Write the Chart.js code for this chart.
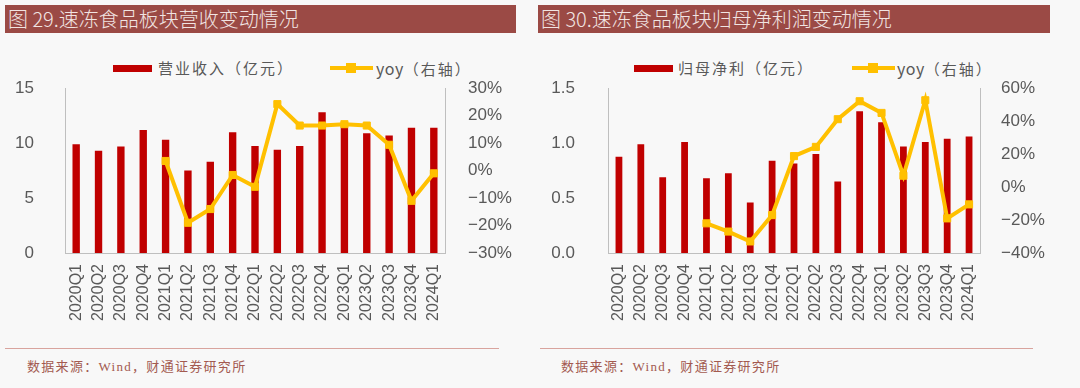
<!DOCTYPE html>
<html>
<head>
<meta charset="utf-8">
<script src="https://cdn.jsdelivr.net/npm/chart.js@4.4.1/dist/chart.umd.min.js"></script>
<style>
  body { margin: 0; width: 1080px; height: 388px; background: #f8f8f8; position: relative; overflow: hidden; font-family: "Noto Sans CJK SC", sans-serif; }
  .title { position: absolute; top: 5px; height: 28px; line-height: 28px; background: #9b4a45; color: #f1e4e2; font-size: 20px; padding-left: 3px; box-sizing: border-box; white-space: nowrap; font-weight: 300; }
  .rule { position: absolute; top: 348px; height: 1px; background: #d9a49e; }
  .src { position: absolute; top: 356px; font-size: 13px; letter-spacing: 1.3px; color: #a35a50; font-family: "Liberation Serif", "Noto Sans CJK SC", serif; white-space: nowrap; }
  .leg { position: absolute; top: 59px; font-size: 15px; letter-spacing: 2px; color: #595959; white-space: nowrap; line-height: 18px; }
  .leg .lat { letter-spacing: 0.5px; font-size: 16px; }
  .sw-bar { position: absolute; top: 6px; height: 7px; background: #c00000; }
  .sw-line { position: absolute; top: 7px; height: 4px; background: #ffc000; }
  .sw-pt { position: absolute; top: 4px; width: 10px; height: 10px; background: #ffc000; }
  canvas { position: absolute; }
</style>
</head>
<body>
<div class="title" style="left:5px;width:511px;">图 29.速冻食品板块营收变动情况</div>
<div class="title" style="left:538px;width:512px;">图 30.速冻食品板块归母净利润变动情况</div>

<div class="leg" style="left:113px;"><span class="sw-bar" style="left:0;width:39px;"></span><span style="margin-left:45px;">营业收入（亿元）</span></div>
<div class="leg" style="left:330px;"><span class="sw-line" style="left:0;width:43px;"></span><span class="sw-pt" style="left:16px;"></span><span style="margin-left:46px;"><span class="lat">yoy</span>（右轴）</span></div>
<div class="leg" style="left:634px;"><span class="sw-bar" style="left:0;width:39px;"></span><span style="margin-left:44px;">归母净利（亿元）</span></div>
<div class="leg" style="left:852px;"><span class="sw-line" style="left:0;width:43px;"></span><span class="sw-pt" style="left:16px;"></span><span style="margin-left:45px;"><span class="lat">yoy</span>（右轴）</span></div>

<!-- верх холста сдвинут с учётом отступа подписей оси (padding + половина высоты шрифта) -->
<canvas id="revChart" width="520" height="275" style="left:0px;top:55px;"></canvas>
<canvas id="profitChart" width="520" height="277" style="left:540px;top:53px;"></canvas>

<div class="rule" style="left:5px;width:494px;"></div>
<div class="rule" style="left:540px;width:493px;"></div>
<div class="src" style="left:27px;">数据来源：Wind，财通证券研究所</div>
<div class="src" style="left:561px;">数据来源：Wind，财通证券研究所</div>

<script>
// квартальные данные
var quarters = ["2020Q1", "2020Q2", "2020Q3", "2020Q4", "2021Q1", "2021Q2", "2021Q3", "2021Q4",
  "2022Q1", "2022Q2", "2022Q3", "2022Q4", "2023Q1", "2023Q2", "2023Q3", "2023Q4", "2024Q1"];
var revenue = [9.9, 9.3, 9.7, 11.2, 10.3, 7.5, 8.3, 11.0, 9.75, 9.4, 9.75, 12.8, 11.9, 10.9, 10.7, 11.4, 11.4];
var revenueYoy = [null, null, null, null, 3.5, -19, -14, -1.6, -5.9, 24.2, 16.4, 16.4, 16.9, 16.4, 9.4, -11, -1];
var profit = [0.875, 0.99, 0.69, 1.01, 0.68, 0.725, 0.46, 0.84, 0.815, 0.9, 0.65, 1.29, 1.19, 0.97, 1.01, 1.04, 1.06];
var profitYoy = [null, null, null, null, -22, -27, -33, -17, 18.8, 24.4, 41.2, 52.1, 45, 6.9, 52.7, -19, -10.5];

var revLeftTicks = { min: 0, max: 15, step: 5 };
var revRightTicks = { min: -30, max: 30, step: 10 };
var profitLeftTicks = { min: 0, max: 1.5, step: 0.5 };
var profitRightTicks = { min: -40, max: 60, step: 20 };

var gray = "#595959";
var axisColor = "#bfbfbf";

function pct(v) {
  return (v < 0 ? "\u2212" + Math.abs(v) : v) + "%";
}

function makeChart(id, bars, yoy, left, right, opt) {
  return new Chart(id, {
    data: {
      labels: quarters,
      datasets: [
        {
          type: "line",
          data: yoy,
          yAxisID: "yR",
          order: 0,
          borderColor: "#ffc000",
          backgroundColor: "#ffc000",
          borderWidth: 4,
          pointStyle: "rect",
          pointRadius: 5,
          pointBorderWidth: 1,
          tension: 0,
        },
        {
          type: "bar",
          data: bars,
          yAxisID: "yL",
          order: 1,
          backgroundColor: "#c00000",
          categoryPercentage: 1,
          barPercentage: opt.barPct,
        },
      ],
    },
    options: {
      responsive: false,
      animation: false,
      devicePixelRatio: 1,
      layout: { padding: 0 },
      plugins: { legend: { display: false }, tooltip: { enabled: false } },
      scales: {
        x: {
          grid: { display: false },
          border: { display: true, color: axisColor },
          ticks: { color: gray, font: { family: "Liberation Sans", size: 16 }, maxRotation: 90, minRotation: 90, padding: 3, autoSkip: false },
          afterFit: function (s) { s.height = 77; },
        },
        yL: {
          position: "left",
          min: left.min, max: left.max,
          grid: { display: false },
          border: { display: true, color: axisColor },
          ticks: {
            stepSize: left.step, color: gray, padding: opt.leftPad,
            font: { family: "Liberation Sans", size: 17 },
            callback: opt.leftFmt,
          },
          afterFit: function (s) { s.width = opt.leftW; },
        },
        yR: {
          position: "right",
          min: right.min, max: right.max,
          grid: { display: false },
          border: { display: true, color: axisColor },
          ticks: {
            stepSize: right.step, color: gray, padding: opt.rightPad,
            font: { family: "Liberation Sans", size: 17 },
            callback: pct,
          },
          afterFit: function (s) { s.width = opt.rightW; },
        },
      },
    },
  });
}

makeChart("revChart", revenue, revenueYoy, revLeftTicks, revRightTicks, {
  barPct: 0.33, leftW: 65, rightW: 75, leftPad: 23, rightPad: 15,
  leftFmt: function (v) { return v; },
});
makeChart("profitChart", profit, profitYoy, profitLeftTicks, profitRightTicks, {
  barPct: 0.31, leftW: 68, rightW: 80, leftPad: 25, rightPad: 13,
  leftFmt: function (v) { return v.toFixed(1); },
});
</script>
</body>
</html>
